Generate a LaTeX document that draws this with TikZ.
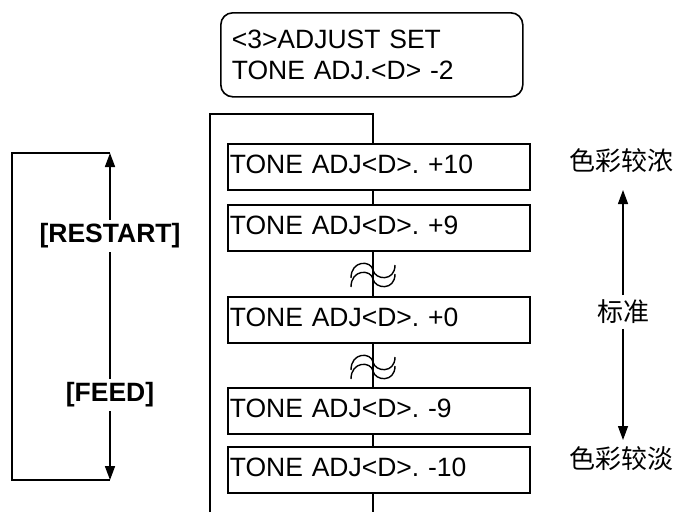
\documentclass[tikz,border=0pt]{standalone}
\usepackage{fontspec}
\setmainfont{Liberation Sans}
\newfontfamily\cjk{Noto Sans CJK SC}
\usepackage{tikz}
\usetikzlibrary{arrows.meta}
\frenchspacing
\definecolor{inkmain}{HTML}{000000}
\tikzset{every node/.append style={font=\fontsize{26.5}{31}\selectfont}}
\tikzset{
  menubox/.style={draw=inkmain,rounded corners=12pt,anchor=north west,
    text width=280pt,inner xsep=11pt,minimum height=84pt,align=left},
  tonebox/.style={draw=inkmain,fill=white,anchor=north west,text width=298pt,
    inner xsep=2pt,inner ysep=0pt,minimum height=46pt,text height=19pt,
    text depth=6pt,align=left},
  keylabel/.style={font=\fontsize{26.5}{31}\selectfont\bfseries,inner sep=3pt},
  cjklabel/.style={font=\fontsize{26}{30}\selectfont\cjk,inner sep=4pt},
  brk/.pic={
    \draw[line width=1.4pt] (-22,8) .. controls (-22,-10) and (-2,-10) .. (0,0)
      .. controls (2,10) and (22,12) .. (22,-5);
    \draw[line width=1.4pt] (-22,17) .. controls (-22,-1) and (-2,-1) .. (0,9)
      .. controls (2,19) and (22,21) .. (22,4);
  }
}

\begin{document}
\begin{tikzpicture}[>={Triangle[length=14pt,width=10pt]},x=1pt,y=-1pt,line width=1.6pt]
  \useasboundingbox (0,0) rectangle (679,512);
  \node[menubox] (menu) at (220,12) {<3>ADJUST SET\\TONE ADJ.<D> -2};
  \coordinate (fbl) at (210,512);
  \coordinate (ftop) at (373,114);
  \coordinate (fbot) at (373,512);
  \draw (fbl) |- (ftop) -- (fbot);
  \node[tonebox] (p10) at (227,143) {TONE ADJ<D>. +10};
  \node[tonebox] (p9) at (227,204) {TONE ADJ<D>. +9};
  \node[tonebox] (p0) at (227,296) {TONE ADJ<D>. +0};
  \node[tonebox] (m9) at (227,387) {TONE ADJ<D>. -9};
  \node[tonebox] (m10) at (227,446) {TONE ADJ<D>. -10};
  \pic at (373,270) {brk};
  \pic at (373,362) {brk};
  \coordinate (ltop) at (110,153);
  \coordinate (lbot) at (110,480);
  \node[keylabel] (restart) at (110,236) {[RESTART]};
  \node[keylabel] (feed) at (110,395) {[FEED]};
  \draw (ltop) -| (12,480) -- (lbot);
  \draw[->] (restart) -- (ltop);
  \draw (restart) -- (feed);
  \draw[->] (feed) -- (lbot);
  \node[cjklabel] (dark) at (621,161) {色彩较浓};
  \node[cjklabel] (std) at (623,312) {标准};
  \node[cjklabel] (light) at (621,459) {色彩较淡};
  \coordinate (uptip) at (623,190);
  \coordinate (downtip) at (623,440);
  \draw[->,line width=1.3pt] (std) -- (uptip);
  \draw[->,line width=1.3pt] (std) -- (downtip);
\end{tikzpicture}
\end{document}
